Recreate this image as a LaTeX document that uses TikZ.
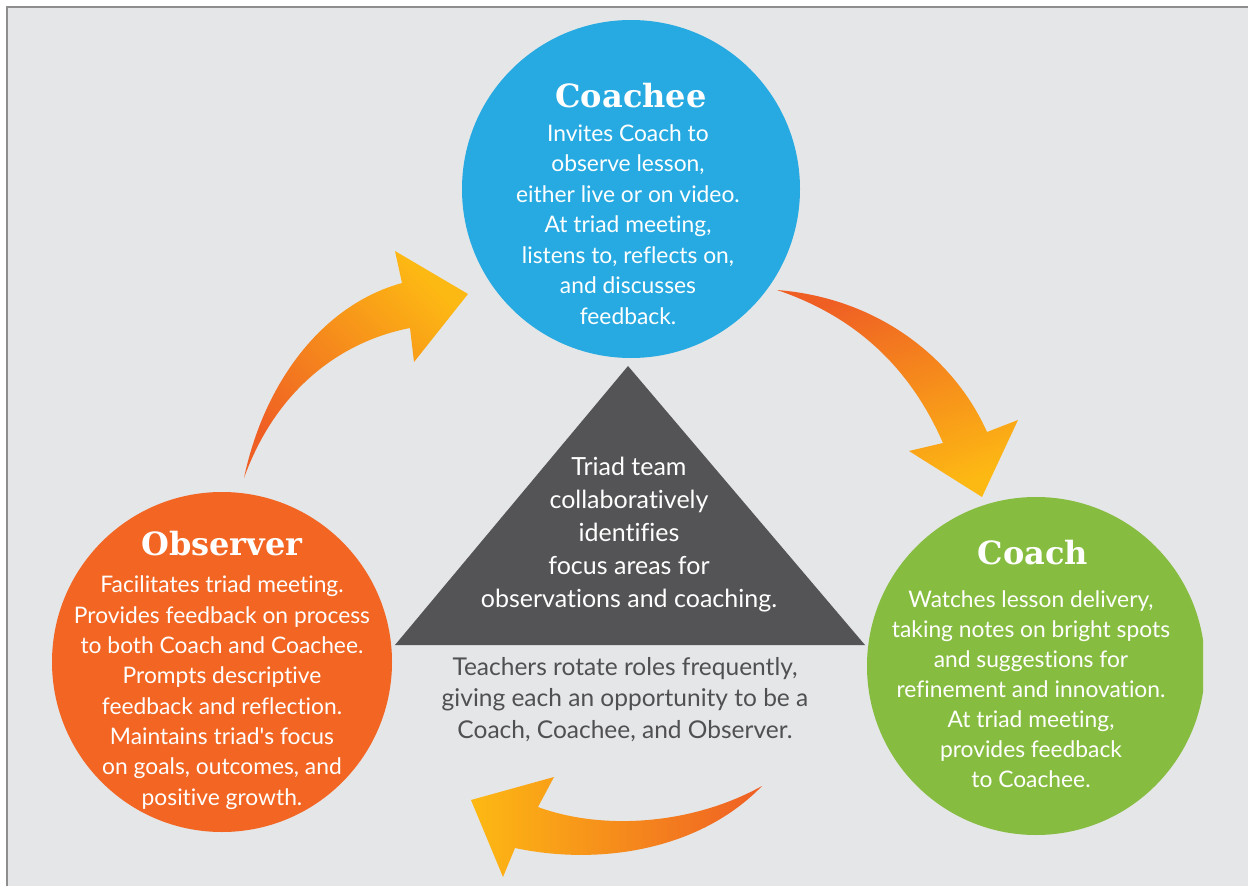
\documentclass[tikz,border=0pt]{standalone}
\usepackage{fontspec}
\setmainfont{Lato}[Ligatures={NoCommon,NoDiscretionary}]
\newfontfamily\titlefont{DejaVu Serif}
\definecolor{bg}{HTML}{E5E6E8}
\definecolor{frame}{HTML}{8E8E8E}
\definecolor{cblue}{HTML}{27AAE1}
\definecolor{corange}{HTML}{F26522}
\definecolor{cgreen}{HTML}{86BD40}
\definecolor{tri}{HTML}{545456}
\definecolor{note}{HTML}{505052}
\definecolor{aorange}{HTML}{EF5F24}
\definecolor{ayellow}{HTML}{FDB913}
\tikzset{
  disc/.style={circle, minimum size=#1, inner sep=0pt},
  title/.style={font=\titlefont\bfseries\fontsize{32}{34}\selectfont, text=white, anchor=base, inner sep=0pt},
  body/.style={font=\fontsize{22.8}{30.5}\selectfont, text=white, align=center, anchor=base, inner sep=0pt},
}
\begin{document}
\begin{tikzpicture}[x=1pt,y=-1pt]
\useasboundingbox (0,0) rectangle (1248,886);
\fill[bg] (7,7) rectangle (1248,886);
\draw[frame, line width=2pt] (7,886) -- (7,7) -- (1248,7);

% triangle
\fill[tri] (628,366) -- (395,645) -- (865,645) -- cycle;
\node[body, font=\fontsize{25}{33}\selectfont] (tritext) at (629,607)
  {Triad team\\collaboratively\\identifies\\focus areas for\\observations and coaching.};

% circles
\node[disc=338pt, fill=cblue] (coachee) at (631,189) {};
\node[disc=340pt, fill=corange] (observer) at (222,662) {};
\begin{scope}
  \clip (0,0) rectangle (1203,886);
  \node[disc=338pt, fill=cgreen] (coach) at (1036,666) {};
\end{scope}

% arrows
\shade[top color=aorange, bottom color=ayellow, shading angle=135]
  (244,478) .. controls (264,383) and (322,305) .. (402,283)
  -- (395,251) -- (468,294) -- (414,362) -- (410,328)
  .. controls (338,342) and (275,392) .. (244,478) -- cycle;
\shade[top color=aorange, bottom color=ayellow, shading angle=20]
  (777,290) .. controls (880,298) and (955,360) .. (987,432)
  -- (1018,420) -- (982,497) -- (909,451) -- (943,443)
  .. controls (912,372) and (860,318) .. (777,290) -- cycle;
\shade[left color=ayellow, right color=aorange]
  (762,786) .. controls (700,850) and (600,866) .. (515,848)
  -- (503,877) -- (471,800) -- (554,777) -- (538,807)
  .. controls (600,830) and (690,826) .. (762,786) -- cycle;

% texts
\node[title] (coacheetitle) at (631,107) {Coachee};
\node[body] (coacheebody) at (628,324)
  {Invites Coach to\\observe lesson,\\either live or on video.\\At triad meeting,\\listens to, reflects on,\\and discusses\\feedback.};

\node[title] (observertitle) at (222,555) {Observer};
\node[body, font=\fontsize{22.8}{30.3}\selectfont] (observerbody) at (222,805)
  {Facilitates triad meeting.\\Provides feedback on process\\to both Coach and Coachee.\\Prompts descriptive\\feedback and reflection.\\Maintains triad\textquotesingle s focus\\on goals, outcomes, and\\positive growth.};

\node[title] (coachtitle) at (1033,564) {Coach};
\node[body, font=\fontsize{22.8}{30}\selectfont] (coachbody) at (1031,787)
  {Watches lesson delivery,\\taking notes on bright spots\\and suggestions for\\refinement and innovation.\\At triad meeting,\\provides feedback\\to Coachee.};

\node[body, text=note, font=\fontsize{24.5}{31.5}\selectfont] (rotate) at (625,738)
  {Teachers rotate roles frequently,\\giving each an opportunity to be a\\Coach, Coachee, and Observer.};
\end{tikzpicture}
\end{document}
